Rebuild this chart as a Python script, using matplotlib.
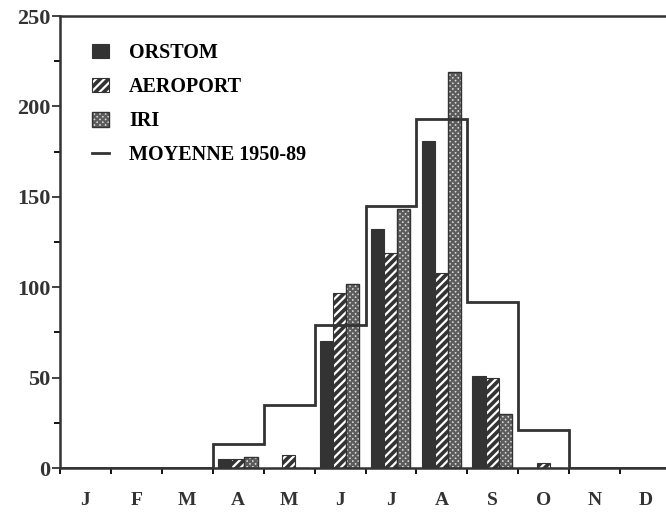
import numpy as np
import matplotlib
matplotlib.use("Agg")
import matplotlib.pyplot as plt
from matplotlib.patches import Patch
from matplotlib.lines import Line2D
from matplotlib.legend_handler import HandlerTuple

# pluie mensuelle (mm)
mois = ["J", "F", "M", "A", "M", "J", "J", "A", "S", "O", "N", "D"]
orstom = [0, 0, 0, 5, 0, 70, 132, 181, 51, 0, 0, 0]
aeroport = [0, 0, 0, 5, 7, 97, 119, 108, 50, 3, 0, 0]
iri = [0, 0, 0, 6, 0, 102, 143, 219, 30, 0, 0, 0]
moyenne = [0, 0, 0, 13, 35, 79, 145, 193, 92, 21, 0, 0]

plt.rcParams["font.family"] = ["Liberation Serif", "DejaVu Serif"]
plt.rcParams["font.weight"] = "bold"
plt.rcParams["hatch.linewidth"] = 1.6

dark = "#333333"
grey_iri = "#d9d9d9"
hatch_iri = "#5c5c5c"

fig = plt.figure(figsize=(6.66, 5.12), dpi=100)
ax = fig.add_axes([60 / 666, 44 / 512, 606 / 666, 452 / 512])

x = np.arange(len(mois))
w = 0.26
x0 = x + 0.1

ax.bar(x0, orstom, width=w, align="edge", color=dark, edgecolor=dark, linewidth=0.8)
# hachures blanches sur fond sombre
ax.bar(x0 + w, aeroport, width=w, align="edge", color=dark, edgecolor="white",
       hatch="////", linewidth=0)
ax.bar(x0 + w, aeroport, width=w, align="edge", fill=False, edgecolor=dark, linewidth=0.8)
ax.bar(x0 + 2 * w, iri, width=w, align="edge", color=grey_iri, edgecolor=hatch_iri,
       hatch="xxxxxx", linewidth=0)
ax.bar(x0 + 2 * w, iri, width=w, align="edge", fill=False, edgecolor=dark, linewidth=1.0)

ax.stairs(moyenne, np.arange(len(mois) + 1), color=dark, linewidth=2)

ax.set_xlim(0, 11.9)
ax.set_ylim(0, 250)

for s in ["left", "bottom", "top"]:
    ax.spines[s].set_linewidth(1.8)
    ax.spines[s].set_color(dark)
ax.spines["right"].set_visible(False)

ax.set_yticks(np.arange(0, 251, 50))
ax.set_yticks(np.arange(25, 250, 50), minor=True)
ax.tick_params(axis="y", which="major", direction="out", length=6, width=1.3,
               labelsize=16, pad=1, colors=dark)
ax.tick_params(axis="y", which="minor", direction="out", length=4, width=1.3)

ax.set_xticks(np.arange(0, 12))
ax.set_xticklabels([])
ax.set_xticks(x + 0.5, minor=True)
ax.set_xticklabels(mois, minor=True)
ax.tick_params(axis="x", which="major", direction="out", length=4, width=1.3)
ax.tick_params(axis="x", which="minor", length=0, labelsize=14, pad=17, colors=dark)

h_orstom = Patch(facecolor=dark, edgecolor=dark, linewidth=0.8)
h_aero = (Patch(facecolor=dark, edgecolor="white", hatch="////", linewidth=0),
          Patch(fill=False, edgecolor=dark, linewidth=0.8))
h_iri = (Patch(facecolor=grey_iri, edgecolor=hatch_iri, hatch="xxxxxx", linewidth=0),
         Patch(fill=False, edgecolor=dark, linewidth=1.0))
h_moy = Line2D([], [], color=dark, linewidth=2)

ax.legend([h_orstom, h_aero, h_iri, h_moy],
          ["ORSTOM", "AEROPORT", "IRI", "MOYENNE 1950-89"],
          handler_map={tuple: HandlerTuple(ndivide=1)},
          loc="upper left", bbox_to_anchor=(92 / 666, 1 - 43 / 512),
          bbox_transform=fig.transFigure, frameon=False, fontsize=14.5,
          borderpad=0, borderaxespad=0, labelspacing=0.7,
          handlelength=0.85, handleheight=0.75, handletextpad=1.0)

fig.savefig("out.png", dpi=100, facecolor="white")
